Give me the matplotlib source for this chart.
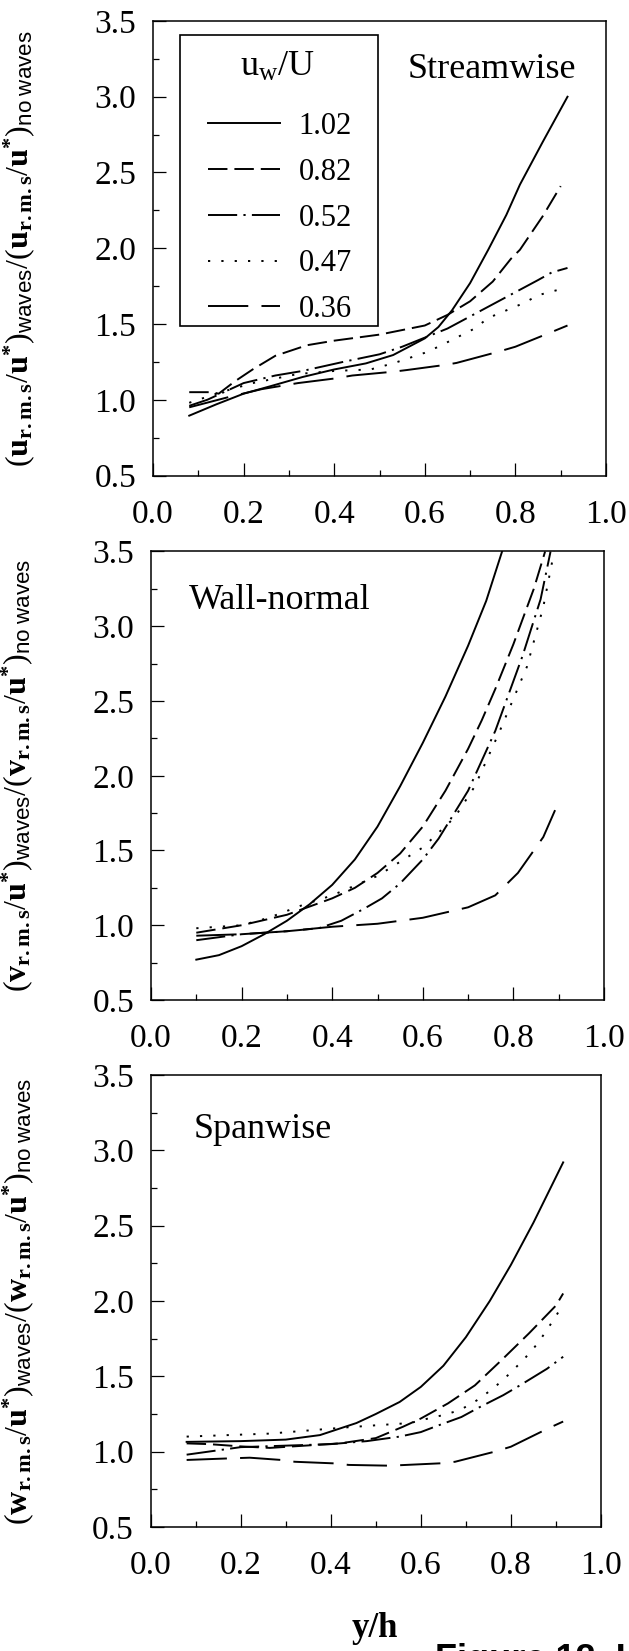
import matplotlib
matplotlib.use('Agg')
import matplotlib.pyplot as plt
from matplotlib.patches import Rectangle
from matplotlib.ticker import MultipleLocator, FormatStrFormatter

plt.rcParams['font.family'] = 'Liberation Serif'
plt.rcParams['mathtext.fontset'] = 'custom'
plt.rcParams['mathtext.rm'] = 'Liberation Serif'
plt.rcParams['mathtext.it'] = 'Liberation Serif:italic'
plt.rcParams['mathtext.bf'] = 'Liberation Serif:bold'
plt.rcParams['mathtext.sf'] = 'Liberation Sans'
plt.rcParams['lines.scale_dashes'] = False

# u_w/U values (legend)
labels = ['1.02', '0.82', '0.52', '0.47', '0.36']

# Streamwise panel
s102_x = [0.08, 0.14, 0.20, 0.26, 0.33, 0.40, 0.47, 0.53, 0.60, 0.63, 0.66, 0.70, 0.74, 0.78, 0.81, 0.86, 0.915]
s102_y = [0.895, 0.97, 1.04, 1.09, 1.15, 1.20, 1.24, 1.295, 1.405, 1.48, 1.59, 1.77, 1.99, 2.22, 2.42, 2.70, 3.00]
s082_x = [0.08, 0.13, 0.145, 0.18, 0.22, 0.27, 0.34, 0.40, 0.50, 0.55, 0.60, 0.65, 0.70, 0.75, 0.79, 0.81, 0.86, 0.90]
s082_y = [1.05, 1.05, 1.04, 1.12, 1.20, 1.29, 1.36, 1.39, 1.43, 1.46, 1.49, 1.56, 1.65, 1.78, 1.93, 1.99, 2.21, 2.41]
s052_x = [0.08, 0.12, 0.20, 0.27, 0.33, 0.42, 0.50, 0.55, 0.60, 0.65, 0.70, 0.75, 0.80, 0.85, 0.88, 0.915]
s052_y = [0.96, 1.00, 1.11, 1.16, 1.19, 1.25, 1.30, 1.35, 1.41, 1.47, 1.55, 1.63, 1.71, 1.79, 1.84, 1.87]
s047_x = [0.08, 0.15, 0.22, 0.32, 0.40, 0.48, 0.53, 0.60, 0.63, 0.67, 0.71, 0.74, 0.78, 0.82, 0.85, 0.90]
s047_y = [0.98, 1.05, 1.11, 1.17, 1.19, 1.20, 1.24, 1.31, 1.35, 1.41, 1.47, 1.54, 1.59, 1.64, 1.69, 1.73]
s036_x = [0.08, 0.17, 0.24, 0.32, 0.40, 0.44, 0.53, 0.56, 0.645, 0.67, 0.76, 0.80, 0.88, 0.915]
s036_y = [0.95, 1.02, 1.07, 1.11, 1.14, 1.16, 1.185, 1.196, 1.23, 1.243, 1.315, 1.35, 1.447, 1.49]

# Wall-normal panel
w102_x = [0.10, 0.15, 0.20, 0.25, 0.30, 0.35, 0.40, 0.45, 0.50, 0.55, 0.60, 0.65, 0.70, 0.74, 0.775]
w102_y = [0.77, 0.80, 0.86, 0.94, 1.03, 1.14, 1.27, 1.44, 1.66, 1.93, 2.22, 2.53, 2.87, 3.17, 3.5]
w082_x = [0.10, 0.20, 0.30, 0.40, 0.45, 0.50, 0.55, 0.60, 0.65, 0.70, 0.73, 0.76, 0.80, 0.845, 0.87]
w082_y = [0.95, 1.00, 1.07, 1.18, 1.25, 1.35, 1.48, 1.66, 1.90, 2.18, 2.37, 2.58, 2.88, 3.25, 3.5]
w052_x = [0.10, 0.20, 0.30, 0.37, 0.42, 0.47, 0.51, 0.55, 0.60, 0.635, 0.70, 0.76, 0.82, 0.86, 0.882]
w052_y = [0.90, 0.94, 0.96, 0.98, 1.03, 1.11, 1.18, 1.28, 1.44, 1.58, 1.90, 2.30, 2.80, 3.18, 3.5]
w047_x = [0.10, 0.20, 0.26, 0.33, 0.40, 0.50, 0.60, 0.67, 0.715, 0.77, 0.83, 0.866, 0.89]
w047_y = [0.98, 1.00, 1.05, 1.13, 1.20, 1.33, 1.52, 1.72, 1.93, 2.30, 2.73, 3.13, 3.5]
w036_x = [0.10, 0.20, 0.30, 0.40, 0.50, 0.60, 0.70, 0.76, 0.81, 0.866, 0.892]
w036_y = [0.93, 0.94, 0.96, 0.99, 1.01, 1.05, 1.12, 1.20, 1.35, 1.59, 1.77]

# Spanwise panel
p102_x = [0.08, 0.20, 0.30, 0.376, 0.457, 0.50, 0.553, 0.60, 0.65, 0.70, 0.753, 0.80, 0.85, 0.916]
p102_y = [1.065, 1.07, 1.08, 1.11, 1.19, 1.25, 1.33, 1.43, 1.57, 1.76, 2.0, 2.24, 2.52, 2.92]
p082_x = [0.08, 0.13, 0.20, 0.265, 0.42, 0.50, 0.56, 0.60, 0.66, 0.72, 0.78, 0.84, 0.90, 0.916]
p082_y = [1.055, 1.05, 1.035, 1.025, 1.055, 1.09, 1.165, 1.22, 1.32, 1.44, 1.61, 1.785, 1.97, 2.05]
p052_x = [0.08, 0.20, 0.30, 0.40, 0.48, 0.553, 0.60, 0.635, 0.69, 0.727, 0.783, 0.82, 0.88, 0.916]
p052_y = [0.98, 1.03, 1.04, 1.05, 1.07, 1.10, 1.13, 1.17, 1.23, 1.29, 1.375, 1.44, 1.55, 1.63]
p047_x = [0.08, 0.265, 0.43, 0.50, 0.576, 0.616, 0.65, 0.687, 0.724, 0.761, 0.798, 0.831, 0.86, 0.897, 0.916]
p047_y = [1.10, 1.12, 1.16, 1.175, 1.19, 1.22, 1.243, 1.276, 1.34, 1.42, 1.52, 1.62, 1.72, 1.885, 1.98]
p036_x = [0.08, 0.18, 0.22, 0.29, 0.32, 0.41, 0.44, 0.53, 0.56, 0.646, 0.676, 0.764, 0.80, 0.883, 0.916]
p036_y = [0.945, 0.956, 0.96, 0.945, 0.933, 0.922, 0.912, 0.907, 0.911, 0.923, 0.933, 1.0, 1.033, 1.155, 1.2]

# dash patterns in points, same order as labels
dash_styles = [None, (14, 5), (21, 4.5, 1.6, 4.5), (1.6, 8), (29, 9.5)]

W, H = 629, 1651
fig = plt.figure(figsize=(W / 100, H / 100), dpi=100)

def panel(left, top, right, bottom):
    return fig.add_axes([left / W, 1 - bottom / H, (right - left) / W, (bottom - top) / H])

def ylab(c):
    return (r'$(\mathbf{%s}_{\mathbf{r.m.s}}/\mathbf{u}^{\mathbf{*}})_{\mathsf{waves}}'
            r'/(\mathbf{%s}_{\mathbf{r.m.s}}/\mathbf{u}^{\mathbf{*}})_{\mathsf{no\ waves}}$' % (c, c))

ax1 = panel(153, 21, 606, 475.5)
ax2 = panel(151, 551.5, 604, 1000)
ax3 = panel(150.6, 1075, 601, 1527)

panels = [
    (ax1, [(s102_x, s102_y), (s082_x, s082_y), (s052_x, s052_y), (s047_x, s047_y), (s036_x, s036_y)], 'u'),
    (ax2, [(w102_x, w102_y), (w082_x, w082_y), (w052_x, w052_y), (w047_x, w047_y), (w036_x, w036_y)], 'v'),
    (ax3, [(p102_x, p102_y), (p082_x, p082_y), (p052_x, p052_y), (p047_x, p047_y), (p036_x, p036_y)], 'w'),
]

for ax, series, comp in panels:
    for (xs, ys), ds, lab in zip(series, dash_styles, labels):
        ln, = ax.plot(xs, ys, color='black', lw=1.4, label=lab)
        if ds is not None:
            ln.set_dashes(ds)
    ax.set_xlim(0, 1)
    ax.set_ylim(0.5, 3.5)
    ax.xaxis.set_major_locator(MultipleLocator(0.2))
    ax.xaxis.set_minor_locator(MultipleLocator(0.1))
    ax.yaxis.set_major_locator(MultipleLocator(0.5))
    ax.yaxis.set_minor_locator(MultipleLocator(0.25))
    ax.xaxis.set_major_formatter(FormatStrFormatter('%.1f'))
    ax.yaxis.set_major_formatter(FormatStrFormatter('%.1f'))
    ax.tick_params(which='both', direction='in', top=False, right=False, width=0.9, labelsize=24)
    ax.tick_params(axis='y', which='major', length=9.5, pad=12)
    ax.tick_params(axis='x', which='major', length=9.5, pad=17)
    ax.tick_params(which='minor', length=4.5)
    for sp in ax.spines.values():
        sp.set_linewidth(1.1)
    ax.set_ylabel(ylab(comp), fontsize=23)
    ax.yaxis.set_label_coords(-0.255, 0.5)

ax1.text(0.748, 3.18, 'Streamwise', ha='center', va='center', fontsize=26)
ax2.text(0.285, 3.17, 'Wall-normal', ha='center', va='center', fontsize=26)
ax3.text(0.25, 3.14, 'Spanwise', ha='center', va='center', fontsize=26)

# legend: frame drawn as a box, title as text, entries via legend()
ax1.add_patch(Rectangle((0.0596, 0.329), 0.437, 0.640, transform=ax1.transAxes,
                        fill=False, edgecolor='black', lw=1.2, zorder=5))
ax1.text(0.274, 0.897, r'u$_\mathrm{w}$/U', transform=ax1.transAxes, ha='center',
         va='center', fontsize=26)
leg = ax1.legend(loc='upper left', bbox_to_anchor=(0.122, 0.80), fontsize=22,
                 frameon=False, handlelength=2.35, handletextpad=0.6, labelspacing=0.55,
                 borderpad=0, borderaxespad=0)

fig.text(375 / W, 1 - 1628 / H, 'y/h', ha='center', va='center', fontsize=25, fontweight='bold')
fig.text(435 / W, 1 - 1643 / H, 'Figure 12. L', ha='left', va='top', fontsize=26,
         fontweight='bold', family='Liberation Sans')

fig.savefig('out.png', dpi=100)
